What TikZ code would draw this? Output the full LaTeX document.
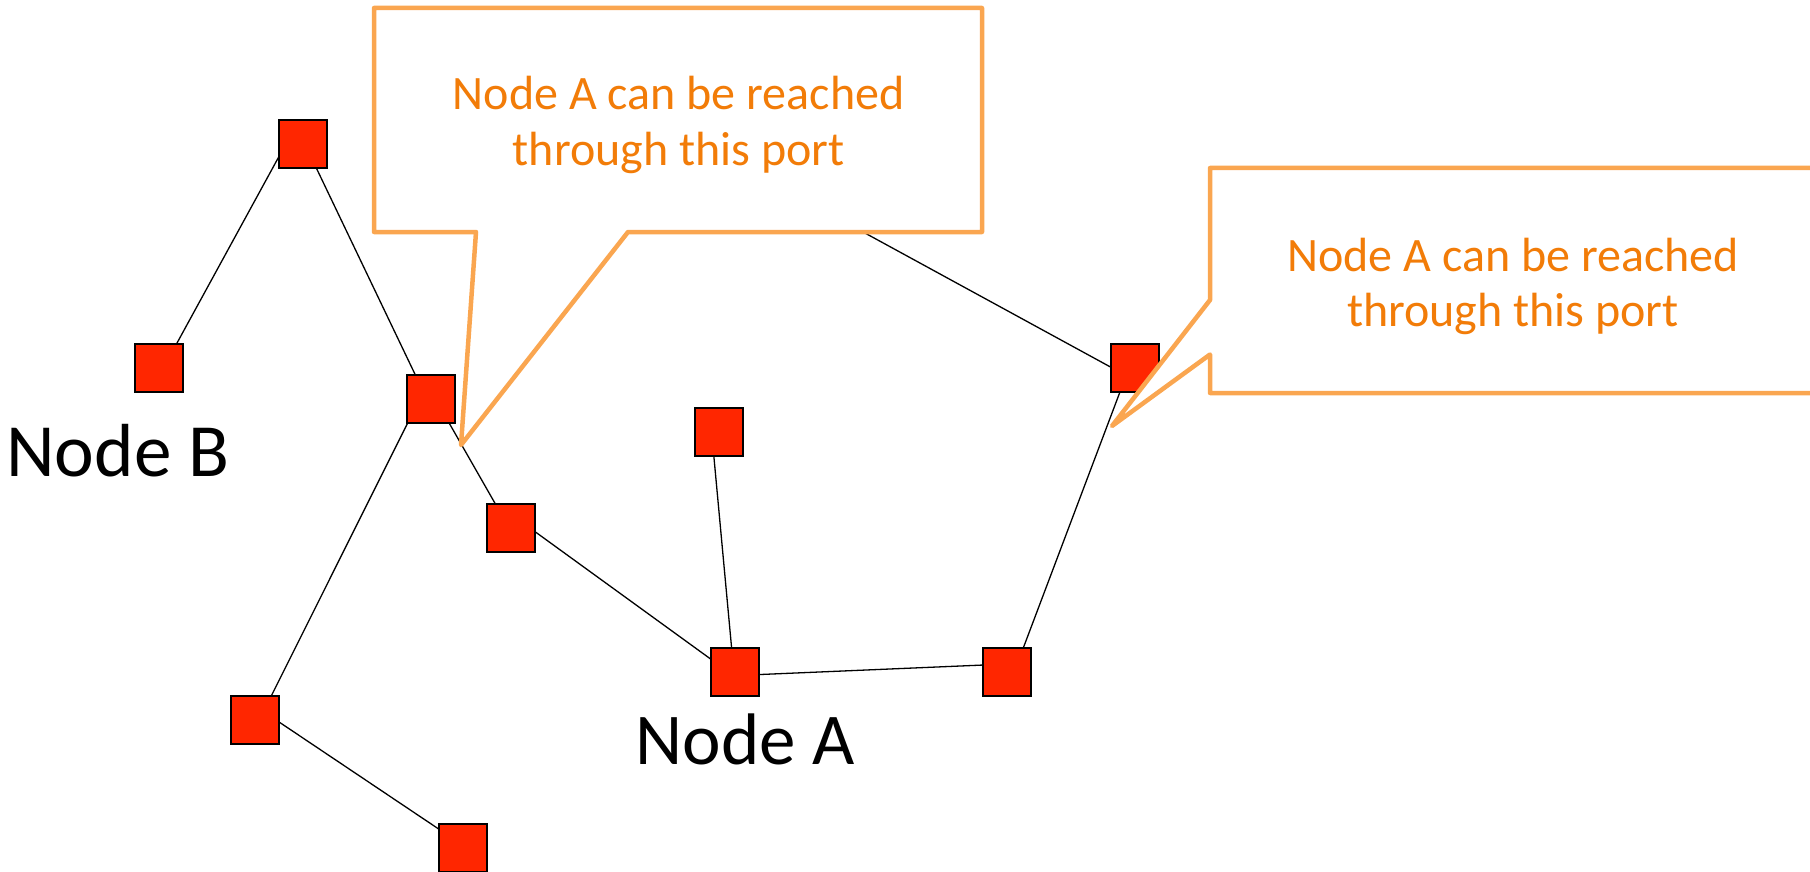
\documentclass[tikz,border=0pt]{standalone}
\usepackage{fontspec}
\setmainfont{Carlito}
\definecolor{portred}{RGB}{255,38,0}
\definecolor{calloutline}{RGB}{250,166,80}
\definecolor{callouttext}{RGB}{242,124,8}
\tikzset{
  sw/.style={draw=black, line width=0.85pt, fill=portred, minimum size=24.25pt, inner sep=0pt, outer sep=0pt},
  link/.style={draw=black, line width=0.65pt},
  balloon/.style={draw=calloutline, fill=white, line width=2.25pt, line join=round},
  balloontext/.style={text=callouttext, font=\fontsize{24pt}{28pt}\selectfont, anchor=base, inner sep=0pt},
  biglabel/.style={text=black, font=\fontsize{36.5pt}{40pt}\selectfont, inner sep=0pt}
}
\begin{document}
\begin{tikzpicture}[x=0.5pt, y=-0.5pt]
\useasboundingbox (0,0) rectangle (1810,872);
\clip (0,0) rectangle (1810,872);

% switches
\node[sw] (s1)  at (303,144) {};
\node[sw] (s2)  at (159,368) {};
\node[sw] (s3)  at (431,399) {};
\node[sw] (s4)  at (511,528) {};
\node[sw] (s5)  at (719,432) {};
\node[sw] (s6)  at (735,672) {};
\node[sw] (s7)  at (1007,672) {};
\node[sw] (s8)  at (1135,368) {};
\node[sw] (s9)  at (255,720) {};
\node[sw] (s10) at (463,848) {};
\coordinate (far) at (700,143);

% links
\draw[link] (s1.208) -- (s2.54);
\draw[link] (s1.299) -- (s3.123);
\draw[link] (s3.307) -- (s4.123);
\draw[link] (s3.226) -- (s9.56);
\draw[link] (s9.355) -- (s10.142);
\draw[link] (s4.351) -- (s6.152);
\draw[link] (s5.258) -- (s6.98);
\draw[link] (s6.354) -- (s7.164);
\draw[link] (s7.56) -- (s8.238);
\draw[link] (s8.178) -- (far);

% labels
\node[biglabel, font=\fontsize{37.6pt}{41pt}\selectfont, anchor=base west] (lb) at (6,476) {Node B};
\node[biglabel, anchor=base] (la) at (745,764) {Node A};

% callouts
\path[balloon] (374,8) -- (982,8) -- (982,232) -- (628,232) -- (461,445)
  -- (476,232) -- (374,232) -- cycle;
\node[balloontext] (c1a) at (678.6,110) {Node A can be reached};
\node[balloontext] (c1b) at (678.6,166) {through this port};

\path[balloon] (1210,168) -- (1840,168) -- (1840,393) -- (1210,393)
  -- (1210,354.5) -- (1112,426) -- (1210,300) -- cycle;
\node[balloontext] (c2a) at (1513,271.6) {Node A can be reached};
\node[balloontext] (c2b) at (1513,326.3) {through this port};
\end{tikzpicture}
\end{document}
